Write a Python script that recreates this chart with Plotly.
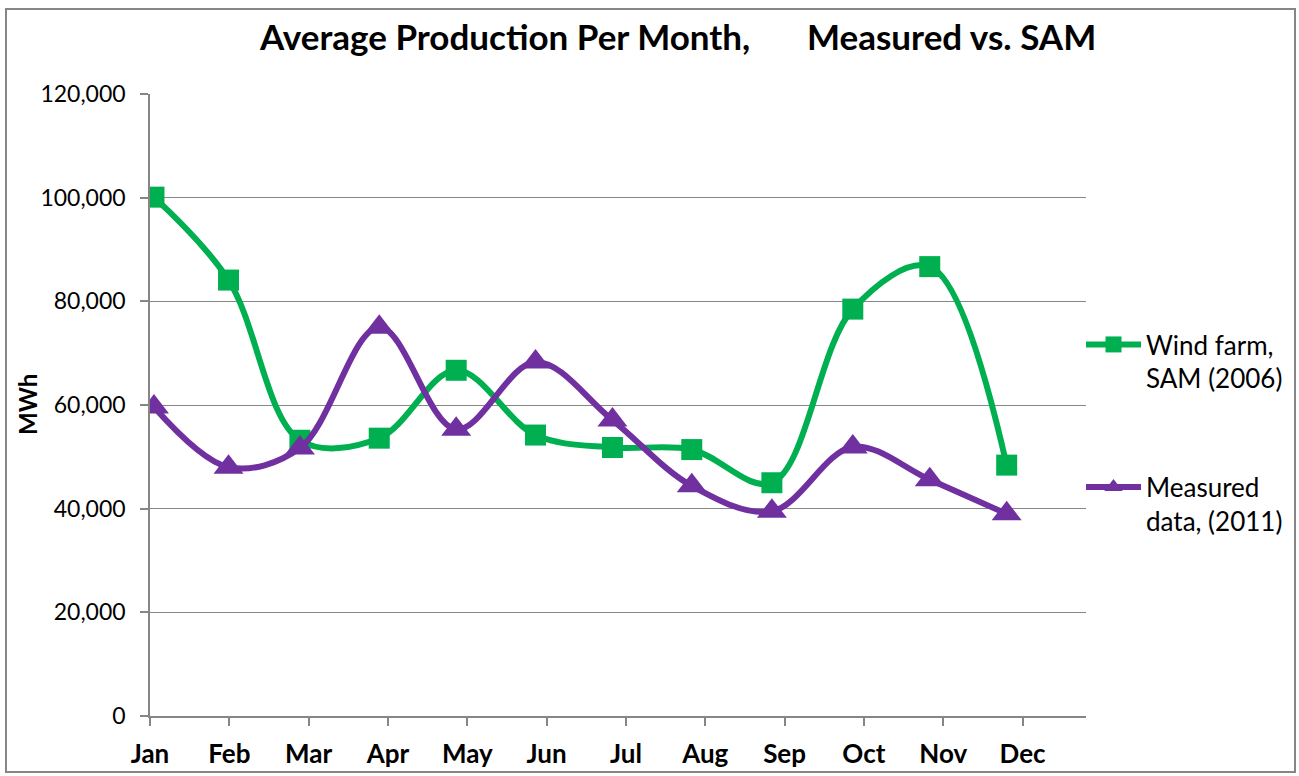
import plotly.graph_objects as go

months = ["Jan", "Feb", "Mar", "Apr", "May", "Jun", "Jul", "Aug", "Sep", "Oct", "Nov", "Dec"]
# position of each sample along the month axis (0 = Jan tick)
sample_pos = [0.05, 0.99, 1.89, 2.89, 3.86, 4.86, 5.83, 6.83, 7.84, 8.86, 9.83, 10.80]
sam_2006 = [100100, 84100, 53200, 53600, 66700, 54200, 51800, 51400, 45000, 78500, 86700, 48400]
measured_2011 = [59600, 48000, 51700, 75000, 55300, 68300, 57100, 44400, 39500, 51900, 45600, 39000]
y_ticks = [0, 20000, 40000, 60000, 80000, 100000, 120000]

GREEN = "#00B050"
PURPLE = "#7030A0"
GRAY = "#868686"
FONT = "Lato"

fig = go.Figure()
fig.add_trace(go.Scatter(
    x=sample_pos, y=sam_2006, name="Wind farm,<br>SAM (2006)", legendgroup="a",
    mode="lines+markers", line=dict(color=GREEN, width=6, shape="spline", smoothing=1.0),
    marker=dict(symbol="square", size=21, color=GREEN),
))
fig.add_trace(go.Scatter(
    x=sample_pos, y=measured_2011, name="Measured<br>data, (2011)", legendgroup="b",
    mode="lines+markers", line=dict(color=PURPLE, width=6, shape="spline", smoothing=1.0),
    marker=dict(symbol="triangle-up", size=26, color=PURPLE),
))

fig.update_layout(
    width=1299, height=776,
    margin=dict(l=150, r=213, t=94, b=60, autoexpand=False),
    paper_bgcolor="white", plot_bgcolor="white",
    font=dict(family=FONT, color="black"),
    showlegend=True,
    legend=dict(x=(1081 - 150) / 936, y=0.635, xanchor="left", yanchor="top",
                font=dict(family=FONT, size=26, color="black"),
                valign="top", tracegroupgap=72, itemwidth=55,
                bgcolor="rgba(0,0,0,0)"),
    xaxis=dict(range=[0, 11.8], tickmode="array", tickvals=list(range(12)),
               ticktext=["<b>%s</b>" % m for m in months],
               showgrid=False, zeroline=False, showline=True, linecolor=GRAY, linewidth=1.5,
               ticks="outside", ticklen=8, tickcolor=GRAY, tickwidth=1.5, ticklabelstandoff=6,
               tickfont=dict(family=FONT, size=26, color="black")),
    yaxis=dict(range=[0, 120000], tickmode="array", tickvals=y_ticks, tickformat=",",
               showgrid=True, gridcolor=GRAY, gridwidth=1.3, zeroline=False,
               showline=True, linecolor=GRAY, linewidth=1.5,
               ticks="outside", ticklen=8, tickcolor=GRAY, tickwidth=1.5, ticklabelstandoff=10,
               tickfont=dict(family=FONT, size=23, color="black")),
)

# chart border
fig.add_shape(type="rect", xref="paper", yref="paper",
              x0=(6 - 150) / 936, x1=(1295 - 150) / 936, y0=(716 - 772) / 622, y1=(716 - 9) / 622,
              line=dict(color=GRAY, width=2), fillcolor="rgba(0,0,0,0)", layer="below")

# title
fig.add_annotation(text="<b>Average Production Per Month,</b>", xref="paper", yref="paper",
                   x=(752 - 150) / 936, y=(716 - 36) / 622, xanchor="right", yanchor="middle",
                   showarrow=False, font=dict(family=FONT, size=35, color="black"))
fig.add_annotation(text="<b>Measured vs. SAM</b>", xref="paper", yref="paper",
                   x=(805 - 150) / 936, y=(716 - 36) / 622, xanchor="left", yanchor="middle",
                   showarrow=False, font=dict(family=FONT, size=35, color="black"))
# y axis title
fig.add_annotation(text="<b>MWh</b>", xref="paper", yref="paper",
                   x=(27 - 150) / 936, y=0.5, xanchor="center", yanchor="middle", textangle=-90,
                   showarrow=False, font=dict(family=FONT, size=24, color="black"))

fig.write_html("out.html", config={"displayModeBar": False},
               post_script="document.body.style.margin='0';")
